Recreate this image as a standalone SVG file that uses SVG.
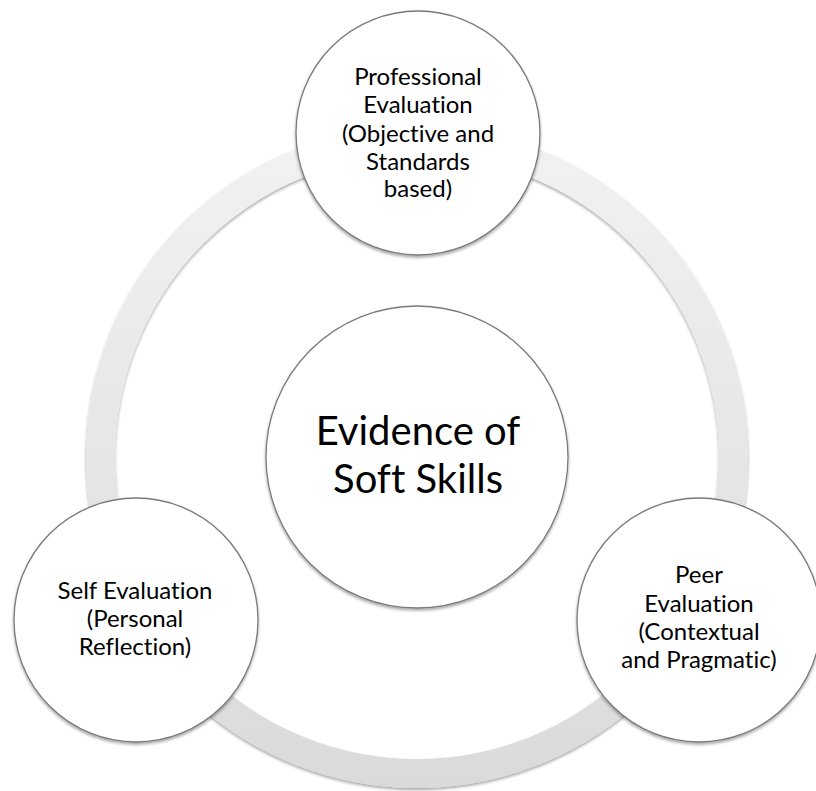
<svg xmlns="http://www.w3.org/2000/svg" width="816" height="791" viewBox="0 0 816 791">
  <defs>
    <linearGradient id="ringFill" gradientUnits="userSpaceOnUse" x1="0" y1="126" x2="0" y2="788">
      <stop offset="0" stop-color="#f2f2f2"/>
      <stop offset="1" stop-color="#dadada"/>
    </linearGradient>
    <filter id="shadow" x="-20%" y="-20%" width="140%" height="140%">
      <feDropShadow dx="0" dy="2" stdDeviation="1.8" flood-color="#000" flood-opacity="0.35"/>
    </filter>
  </defs>
  <style>
    .node { fill: #ffffff; stroke: #7a7a7a; stroke-width: 1.3; filter: url(#shadow); }
    .label { font-family: Lato, "Liberation Sans", sans-serif; font-size: 24px; fill: #000000; text-anchor: middle; font-variant-ligatures: none; }
    .big { font-size: 40px; }
  </style>
  <rect width="816" height="791" fill="#ffffff"/>

  <!-- cycle ring linking the outer circles -->
  <g id="connectors">
    <circle cx="417" cy="457" r="316.5" fill="none" stroke="url(#ringFill)" stroke-width="29" filter="url(#shadow)"/>
  </g>

  <g id="node-center">
    <circle class="node" cx="417" cy="457" r="151"/>
    <text class="label big" x="418" y="445">Evidence of</text>
    <text class="label big" x="418" y="493">Soft Skills</text>
  </g>

  <g id="node-professional">
    <circle class="node" cx="418" cy="133" r="122"/>
    <text class="label" x="418" y="85">Professional</text>
    <text class="label" x="418" y="113">Evaluation</text>
    <text class="label" x="418" y="142">(Objective and</text>
    <text class="label" x="418" y="170">Standards</text>
    <text class="label" x="418" y="197">based)</text>
  </g>

  <g id="node-self">
    <circle class="node" cx="136" cy="620" r="122"/>
    <text class="label" x="135" y="599">Self Evaluation</text>
    <text class="label" x="135" y="627">(Personal</text>
    <text class="label" x="135" y="655">Reflection)</text>
  </g>

  <g id="node-peer">
    <circle class="node" cx="699" cy="620" r="122"/>
    <text class="label" x="699" y="583">Peer</text>
    <text class="label" x="699" y="612">Evaluation</text>
    <text class="label" x="699" y="640">(Contextual</text>
    <text class="label" x="699" y="668">and Pragmatic)</text>
  </g>
</svg>
